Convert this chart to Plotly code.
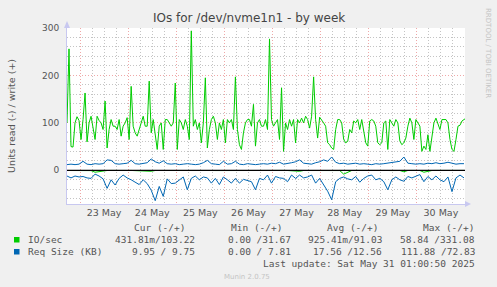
import plotly.graph_objects as go
import pandas as pd

# ---------------- data ----------------
start = pd.Timestamp("2025-05-22 17:30")
end = pd.Timestamp("2025-05-31 00:00")

# IO/sec write (+), hourly
io_write = [
    100, 256, 50, 49, 100, 113, 105, 65, 107, 163,
    60, 100, 114, 93, 65, 114, 105, 100, 86, 146,
    47, 86, 107, 93, 93, 86, 107, 72, 93, 100,
    111, 65, 177, 93, 79, 72, 86, 100, 114, 93,
    93, 188, 79, 107, 72, 44, 93, 100, 44, 107,
    107, 100, 93, 100, 184, 44, 107, 100, 86, 107,
    93, 65, 294, 93, 107, 86, 100, 58, 100, 195,
    47, 86, 107, 114, 100, 65, 100, 86, 107, 58,
    107, 100, 107, 86, 197, 86, 54, 44, 79, 100,
    107, 107, 93, 139, 51, 100, 107, 93, 93, 107,
    86, 277, 107, 93, 100, 107, 65, 174, 40, 100,
    86, 107, 93, 107, 58, 107, 100, 110, 100, 114,
    107, 89, 114, 197, 107, 68, 112, 107, 100, 93,
    58, 54, 47, 44, 86, 107, 107, 100, 65, 58,
    61, 86, 79, 104, 100, 107, 86, 107, 86, 58,
    51, 104, 107, 104, 93, 58, 54, 58, 100, 104,
    44, 107, 100, 93, 107, 100, 62, 54, 58, 68,
    93, 110, 100, 65, 107, 100, 93, 40, 51, 44,
    75, 40, 68, 100, 110, 100, 86, 107, 107, 107,
    100, 65, 44, 40, 65, 93, 95, 104, 107, 110,
]

# IO/sec read (-), 2-hourly magnitudes
io_read = [
    0.4, 0.5, 0.4, 0.3, 0.5, 0.4, 0.6, 4.0, 3.0, 0.5,
    0.4, 0.3, 0.5, 0.4, 1.5, 0.4, 0.3, 0.5, 0.4, 0.3,
    0.5, 2.0, 0.4, 0.3, 0.5, 0.4, 0.3, 0.4, 0.5, 0.4,
    1.0, 0.4, 0.3, 0.5, 0.4, 0.3, 0.4, 0.5, 0.4, 0.3,
    0.4, 0.5, 0.3, 0.4, 0.5, 1.2, 0.4, 0.3, 0.4, 0.5,
    0.4, 0.3, 0.5, 0.4, 0.3, 0.4, 0.5, 0.4, 2.0, 0.4,
    0.3, 0.5, 0.4, 0.3, 0.4, 0.5, 0.4, 0.3, 0.5, 8.0,
    5.0, 0.4, 0.3, 0.5, 0.4, 0.3, 0.4, 0.5, 0.4, 0.3,
    0.4, 0.5, 0.3, 0.4, 3.0, 0.4, 0.3, 0.5, 0.4, 4.0,
    2.0, 0.4, 0.3, 0.5, 0.4, 0.3, 0.4, 0.5, 0.4, 0.3,
]

# Req Size (KB) write (+), 2-hourly
req_write = [
    12, 13, 12, 13, 19, 13, 12, 14, 13, 14,
    22, 21, 14, 13, 14, 15, 21, 14, 13, 14,
    16, 24, 18, 15, 20, 14, 13, 14, 12, 13,
    14, 13, 12, 13, 16, 21, 14, 13, 12, 19,
    13, 14, 19, 13, 12, 14, 13, 12, 13, 14,
    13, 15, 14, 17, 13, 14, 16, 18, 22, 15,
    14, 13, 16, 18, 22, 19, 28, 17, 14, 15,
    13, 14, 15, 13, 14, 13, 12, 14, 13, 14,
    15, 16, 17, 19, 28, 15, 14, 13, 14, 13,
    15, 14, 16, 14, 15, 17, 15, 13, 14, 14,
]

# Req Size (KB) read (-), 2-hourly magnitudes
req_read = [
    12, 16, 12, 14, 13, 16, 17, 8, 12, 18,
    38, 20, 31, 17, 10, 16, 20, 25, 30, 20,
    28, 42, 64, 34, 55, 18, 28, 27, 20, 14,
    41, 17, 12, 20, 14, 16, 27, 17, 30, 14,
    20, 27, 17, 27, 19, 22, 24, 41, 17, 20,
    10, 27, 13, 16, 17, 24, 10, 17, 10, 16,
    14, 10, 27, 17, 30, 44, 62, 24, 17, 14,
    18, 20, 13, 25, 17, 12, 10, 20, 17, 24,
    41, 20, 14, 20, 23, 13, 16, 12, 9, 24,
    13, 20, 12, 20, 24, 14, 45, 16, 10, 16,
]

y_ticks = [0, 100, 200, 300]
title = "IOs for /dev/nvme1n1 - by week"
y_title = "Units read (-) / write (+)"
legend_names = ["IO/sec", "Req Size (KB)"]
col_headers = ["Cur (-/+)", "Min (-/+)", "Avg (-/+)", "Max (-/+)"]
io_stats = ["431.81m/103.22", "0.00 /31.67", "925.41m/91.03", "58.84 /331.08"]
req_stats = ["9.95 / 9.75", "0.00 / 7.81", "17.56 /12.56", "111.88 /72.83"]
last_update = "Last update: Sat May 31 01:00:50 2025"

t_hour = pd.date_range(start, periods=len(io_write), freq="1h")
t_2h = pd.date_range(start, periods=len(req_read), freq="2h")

GREEN = "#00CC00"
BLUE = "#0066B3"

# ---------------- figure ----------------
W, H = 497, 287
L, R, T, B = 67, 465, 28, 204

fig = go.Figure()
fig.add_trace(go.Scatter(x=t_2h, y=[-v for v in io_read], mode="lines",
                         line=dict(color=GREEN, width=1), hoverinfo="skip"))
fig.add_trace(go.Scatter(x=t_hour, y=io_write, mode="lines",
                         line=dict(color=GREEN, width=1), hoverinfo="skip"))
fig.add_trace(go.Scatter(x=t_2h, y=[-v for v in req_read], mode="lines",
                         line=dict(color=BLUE, width=1), hoverinfo="skip"))
fig.add_trace(go.Scatter(x=t_2h, y=req_write, mode="lines",
                         line=dict(color=BLUE, width=1), hoverinfo="skip"))


def px(xp):
    return (xp - L) / (R - L)


def py(yp):
    return (B - yp) / (B - T)


TXT = "#555555"
MONO = "DejaVu Sans Mono"
ann = []
ann.append(dict(text=title, x=px(249), y=py(18), xanchor="center", yanchor="middle",
                font=dict(family="DejaVu Sans", size=12, color="#444444")))
ann.append(dict(text=y_title, x=px(11), y=py(116), textangle=-90, xanchor="center",
                yanchor="middle", font=dict(family="DejaVu Sans", size=9.5, color=TXT)))
ann.append(dict(text="RRDTOOL / TOBI OETIKER", x=px(488), y=py(53), textangle=90,
                xanchor="center", yanchor="middle",
                font=dict(family="DejaVu Sans", size=7, color="#C4C4C4")))
ann.append(dict(text="Munin 2.0.75", x=px(247), y=py(277), xanchor="center",
                yanchor="middle", font=dict(family="DejaVu Sans", size=7, color="#C4C4C4")))

header_right = [187, 284, 380, 476]
value_right = [197, 293, 384, 477]
for h, xr in zip(col_headers, header_right):
    ann.append(dict(text=h, x=px(xr), y=py(227), xanchor="right", yanchor="middle",
                    font=dict(family=MONO, size=9.5, color=TXT)))
for row_y, name, stats in [(239.5, legend_names[0], io_stats), (251.5, legend_names[1], req_stats)]:
    ann.append(dict(text=name, x=px(26), y=py(row_y), xanchor="left", yanchor="middle",
                    font=dict(family=MONO, size=9.5, color=TXT)))
    for s, xr in zip(stats, value_right):
        ann.append(dict(text=s, x=px(xr), y=py(row_y), xanchor="right", yanchor="middle",
                        font=dict(family=MONO, size=9.5, color=TXT)))
ann.append(dict(text=last_update, x=px(477), y=py(263), xanchor="right", yanchor="middle",
                font=dict(family=MONO, size=9.5, color=TXT)))
for a in ann:
    a.update(xref="paper", yref="paper", showarrow=False)

shapes = [
    dict(type="rect", xref="paper", yref="paper", x0=px(14), x1=px(19.5), y0=py(237), y1=py(242.5),
         fillcolor=GREEN, line=dict(width=0)),
    dict(type="rect", xref="paper", yref="paper", x0=px(14), x1=px(19.5), y0=py(249), y1=py(254.5),
         fillcolor=BLUE, line=dict(width=0)),
    # zero line drawn above the data, as rrdtool does
    dict(type="line", xref="paper", yref="y", x0=0, x1=1, y0=0, y1=0, layer="above",
         line=dict(color="#000000", width=1.2)),
    # axis arrows
    dict(type="path", xref="paper", yref="paper",
         path=f"M {px(64)} {py(28)} L {px(70)} {py(28)} L {px(67)} {py(21)} Z",
         fillcolor="#C8C8F0", line=dict(width=0)),
    dict(type="path", xref="paper", yref="paper",
         path=f"M {px(465)} {py(201)} L {px(465)} {py(207)} L {px(471)} {py(204)} Z",
         fillcolor="#C8C8F0", line=dict(width=0)),
]

MAJOR = "#EFA8A8"
MINOR = "#C4C4C4"
DASH = "1px,2px"

fig.update_layout(
    width=W, height=H,
    margin=dict(l=L, r=W - R, t=T, b=H - B, pad=0),
    paper_bgcolor="#F0F0F0", plot_bgcolor="#FFFFFF",
    showlegend=False,
    annotations=ann, shapes=shapes,
    xaxis=dict(
        type="date", range=[start, end],
        dtick=86400000, tick0="2025-05-23 00:00", tickformat="%d %b",
        ticklabelmode="period", ticks="",
        showgrid=True, gridcolor=MAJOR, griddash=DASH, gridwidth=1,
        minor=dict(dtick=6 * 3600000, tick0="2025-05-23 00:00", showgrid=True,
                   gridcolor=MINOR, griddash=DASH, gridwidth=1),
        showline=True, linecolor="#C8C8F0", linewidth=1,
        tickfont=dict(family="DejaVu Sans", size=9.5, color=TXT),
        zeroline=False, fixedrange=True,
    ),
    yaxis=dict(
        range=[-71, 300],
        tickvals=y_ticks, ticktext=[str(v) for v in y_ticks], ticks="",
        ticklabelstandoff=5,
        showgrid=True, gridcolor=MAJOR, griddash=DASH, gridwidth=1,
        minor=dict(dtick=20, tick0=0, showgrid=True, gridcolor=MINOR,
                   griddash=DASH, gridwidth=1),
        zeroline=False,
        showline=True, linecolor="#C8C8F0", linewidth=1,
        tickfont=dict(family="DejaVu Sans", size=9, color=TXT),
        fixedrange=True,
    ),
)

fig.write_html("out.html", config={"displayModeBar": False})
